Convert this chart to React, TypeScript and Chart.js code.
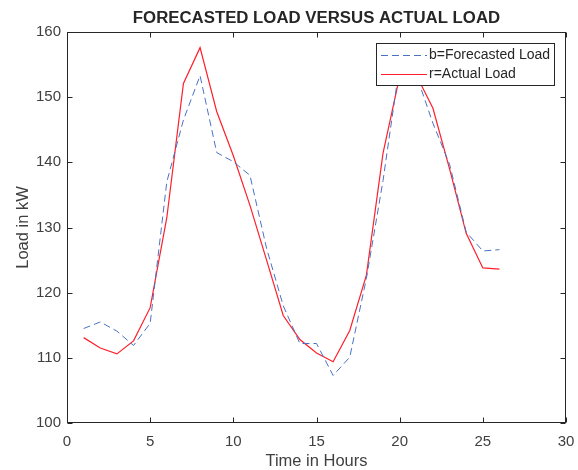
import { useEffect, useRef } from 'react';
import { Chart, registerables } from 'chart.js';

Chart.register(...registerables);

const hours = [1, 2, 3, 4, 5, 6, 7, 8, 9, 10, 11, 12, 13, 14, 15, 16, 17, 18, 19, 20, 21, 22, 23, 24, 25, 26];
const forecastLoad = [114.5, 115.5, 114.1, 111.9, 115.3, 137.0, 146.5, 153.3, 141.5, 140.1, 138.0, 126.8, 118.0, 112.2, 112.2, 107.3, 110.1, 122.2, 137.2, 155.0, 153.4, 146.0, 139.7, 129.3, 126.4, 126.6];
const actualLoad = [113.1, 111.5, 110.6, 112.6, 117.7, 131.5, 152.1, 157.6, 147.8, 141.0, 133.4, 125.0, 116.5, 112.8, 110.75, 109.4, 114.2, 122.7, 141.4, 153.2, 153.4, 148.3, 139.0, 129.1, 123.8, 123.6];
const xTicks = [0, 5, 10, 15, 20, 25, 30];
const yTicks = [100, 110, 120, 130, 140, 150, 160];

const chartTitle = 'FORECASTED LOAD VERSUS ACTUAL LOAD';
const xTitle = 'Time in Hours';
const yTitle = 'Load in kW';
const forecastLabel = 'b=Forecasted Load';
const actualLabel = 'r=Actual Load';

const TEXT = '#262626';
const TICK_TEXT = '#404040';
const FONT = '"Liberation Sans", Arial, Helvetica, sans-serif';
const BLUE = '#4a72c4';
const RED = '#ff1f2a';

const overlay = {
  id: 'overlay',
  afterDatasetsDraw(chart: any) {
    const ctx = chart.ctx;
    const { left, right, top, bottom } = chart.chartArea;
    const xs = chart.scales.x;
    const ys = chart.scales.y;
    ctx.save();
    ctx.strokeStyle = TEXT;
    ctx.lineWidth = 1;
    const L = Math.round(left) + 0.5;
    const R = Math.round(right) - 0.5;
    const T = Math.round(top) + 0.5;
    const B = Math.round(bottom) - 0.5;
    const line = (x1: number, y1: number, x2: number, y2: number) => {
      ctx.beginPath();
      ctx.moveTo(x1, y1);
      ctx.lineTo(x2, y2);
      ctx.stroke();
    };
    xs.ticks.forEach((t: any) => {
      const px = Math.round(xs.getPixelForValue(t.value)) + 0.5;
      line(px, B, px, B - 5);
      line(px, T, px, T + 5);
    });
    ys.ticks.forEach((t: any) => {
      const py = Math.round(ys.getPixelForValue(t.value)) + 0.5;
      line(L, py, L + 5, py);
      line(R, py, R - 5, py);
    });
    ctx.strokeRect(L, T, R - L, B - T);

    // legend box
    const lx = 376, ly = 43, lw = 178, lh = 42;
    ctx.fillStyle = '#ffffff';
    ctx.fillRect(lx, ly, lw, lh);
    ctx.strokeStyle = TEXT;
    ctx.strokeRect(lx + 0.5, ly + 0.5, lw, lh);
    ctx.lineWidth = 1;
    ctx.strokeStyle = BLUE;
    ctx.setLineDash([7, 4]);
    line(381, 55.5, 427, 55.5);
    ctx.setLineDash([]);
    ctx.strokeStyle = RED;
    line(381, 74.5, 427, 74.5);
    ctx.fillStyle = TEXT;
    ctx.font = `14px ${FONT}`;
    ctx.textAlign = 'left';
    ctx.textBaseline = 'middle';
    ctx.fillText(forecastLabel, 429, 55.5);
    ctx.fillText(actualLabel, 429, 74.5);

    // title
    ctx.fillStyle = TEXT;
    ctx.font = `bold 16.8px ${FONT}`;
    ctx.textAlign = 'center';
    ctx.textBaseline = 'middle';
    ctx.fillText(chartTitle, (left + right) / 2, 18);

    // axis titles
    ctx.fillStyle = TICK_TEXT;
    ctx.font = `16.5px ${FONT}`;
    ctx.fillText(xTitle, (left + right) / 2, 461);
    ctx.translate(23, (top + bottom) / 2);
    ctx.rotate(-Math.PI / 2);
    ctx.fillText(yTitle, 0, 0);
    ctx.restore();
  },
};

export default function App() {
  const ref = useRef<HTMLCanvasElement | null>(null);
  useEffect(() => {
    if (!ref.current) return;
    const chart = new Chart(ref.current, {
      type: 'line',
      data: {
        datasets: [
          {
            label: forecastLabel,
            data: hours.map((h, i) => ({ x: h, y: forecastLoad[i] })),
            borderColor: BLUE,
            borderWidth: 1,
            borderDash: [7, 4],
            pointRadius: 0,
            fill: false,
            tension: 0,
          },
          {
            label: actualLabel,
            data: hours.map((h, i) => ({ x: h, y: actualLoad[i] })),
            borderColor: RED,
            borderWidth: 1.2,
            pointRadius: 0,
            fill: false,
            tension: 0,
          },
        ],
      },
      options: {
        responsive: false,
        animation: false,
        devicePixelRatio: 1,
        layout: { padding: { top: 32, right: 12, left: 0, bottom: 0 } },
        plugins: {
          legend: { display: false },
          title: { display: false },
          tooltip: { enabled: false },
        },
        scales: {
          x: {
            type: 'linear',
            min: 0,
            max: 30,
            grid: { display: false, drawTicks: false },
            border: { display: false },
            afterBuildTicks: (s: any) => {
              s.ticks = xTicks.map((v) => ({ value: v }));
            },
            afterFit: (s: any) => {
              s.height = 47;
              s.paddingLeft = 0;
              s.paddingRight = 0;
            },
            ticks: {
              color: TICK_TEXT,
              font: { family: FONT, size: 15 },
              padding: 10,
              maxRotation: 0,
              autoSkip: false,
            },
          },
          y: {
            type: 'linear',
            min: 100,
            max: 160,
            grid: { display: false, drawTicks: false },
            border: { display: false },
            afterBuildTicks: (s: any) => {
              s.ticks = yTicks.map((v) => ({ value: v }));
            },
            afterFit: (s: any) => {
              s.width = 67;
              s.paddingTop = 0;
              s.paddingBottom = 0;
            },
            ticks: {
              color: TICK_TEXT,
              font: { family: FONT, size: 15 },
              padding: 6,
              autoSkip: false,
            },
          },
        },
      },
      plugins: [overlay],
    });
    return () => chart.destroy();
  }, []);
  return (
    <div style={{ position: 'fixed', left: 0, top: 0, width: 578, height: 470, background: '#fff' }}>
      <canvas ref={ref} width={578} height={470} />
    </div>
  );
}
